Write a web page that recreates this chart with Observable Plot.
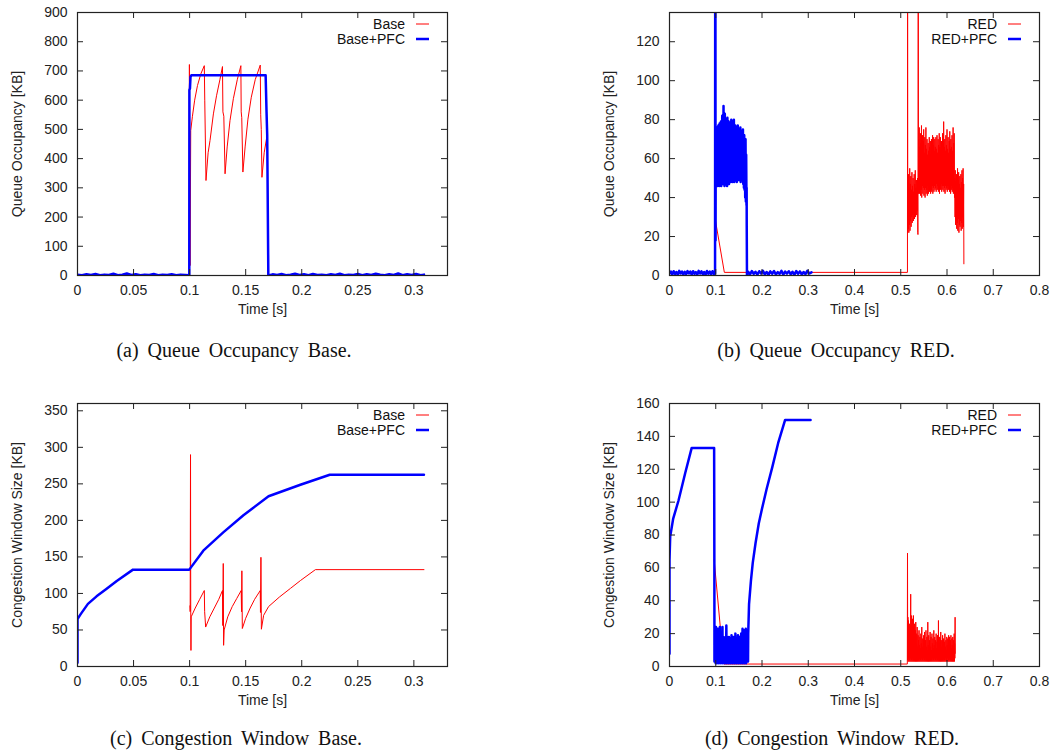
<!DOCTYPE html>
<html><head><meta charset="utf-8">
<script src="https://cdn.jsdelivr.net/npm/d3@7"></script>
<script src="https://cdn.jsdelivr.net/npm/@observablehq/plot@0.6"></script>
<style>
body{margin:0;background:#fff;}
#root{position:relative;width:1053px;height:750px;overflow:hidden;background:#fff;}
.panel{position:absolute;}
.cap{position:absolute;font-family:"Liberation Serif","Times New Roman",serif;font-size:20px;word-spacing:4px;white-space:nowrap;transform:translate(-50%,-50%);color:#111;}
</style></head>
<body><div id="root"></div>
<script>
// ---- tick values ----
const ticksX3 = [0,0.05,0.1,0.15,0.2,0.25,0.3];
const ticksX8 = [0,0.1,0.2,0.3,0.4,0.5,0.6,0.7,0.8];
const ticksYa = [0,100,200,300,400,500,600,700,800,900];
const ticksYb = [0,20,40,60,80,100,120];
const ticksYc = [0,50,100,150,200,250,300,350];
const ticksYd = [0,20,40,60,80,100,120,140,160];

// ---- (a) Queue occupancy, Base ----
const qBase = [[0,1.5],[0.0996,1.5],[0.0998,722],[0.1004,34],[0.1010,496],[0.1025,545],[0.1045,600],[0.107,650],[0.110,690],[0.1131,718],[0.1135,600],[0.1146,325],[0.1165,420],[0.1182,462],[0.1212,553],[0.124,615],[0.127,670],[0.1293,715],[0.1297,560],[0.1305,545],[0.1316,348],[0.1335,440],[0.136,530],[0.139,605],[0.1425,670],[0.1457,718],[0.146,560],[0.1465,540],[0.1475,354],[0.1495,440],[0.152,535],[0.155,610],[0.1585,670],[0.163,720],[0.1634,550],[0.1639,500],[0.1645,336],[0.1665,420],[0.1693,485],[0.1700,0],[0.1705,1.5],[0.309,1.5]];
const qBasePfc = [[0,3],[0.004,1],[0.008,4],[0.012,2],[0.016,5],[0.02,1],[0.024,3],[0.028,2],[0.032,6],[0.036,1],[0.04,3],[0.044,7],[0.048,2],[0.052,4],[0.056,1],[0.06,3],[0.064,2],[0.068,5],[0.072,1],[0.076,3],[0.08,2],[0.084,4],[0.088,1],[0.092,3],[0.096,2],[0.0996,1],
 [0.0997,0],[0.0998,635],[0.1003,640],[0.1008,680],[0.1015,685],[0.1678,685],[0.1686,560],[0.1692,480],[0.1702,0],
 [0.174,4],[0.178,2],[0.182,5],[0.186,1],[0.19,3],[0.194,6],[0.198,2],[0.202,4],[0.206,1],[0.21,5],[0.214,2],[0.218,3],[0.222,1],[0.226,4],[0.23,2],[0.234,6],[0.238,1],[0.242,3],[0.246,2],[0.25,5],[0.254,1],[0.258,4],[0.262,2],[0.266,6],[0.27,3],[0.274,1],[0.278,4],[0.282,2],[0.286,7],[0.29,1],[0.294,4],[0.298,2],[0.302,5],[0.306,1],[0.309,3]];

// ---- (b) Queue occupancy, RED ----
const qRed = [[0,1.5],[0.0988,1.5],[0.099,150],[0.0995,28],[0.1186,1.6],[0.5145,1.6],[0.5148,150],[0.5152,22],
 [0.5158,48],[0.5164,24],[0.517,52],[0.5176,22],[0.5182,45],[0.5188,26],[0.5194,55],[0.52,23],[0.5206,47],[0.5212,28],[0.5218,51],[0.5224,25],[0.523,44],[0.5236,30],[0.5242,53],[0.5248,27],[0.5254,46],[0.526,31],[0.5266,50],[0.5272,28],[0.5278,43],[0.5284,33],[0.529,52],[0.5296,29],[0.5302,47],[0.5308,32],[0.5314,54],[0.532,30],[0.5326,45],[0.5332,34],[0.5338,49],[0.5344,31],[0.535,44],[0.5356,33],[0.5362,50],[0.5368,22],[0.5372,21],[0.5376,150],[0.538,150],[0.5384,42],
 [0.5388,70],[0.5394,44],[0.54,76],[0.5406,42],[0.5412,66],[0.5418,45],[0.5424,73],[0.543,41],[0.5436,68],[0.5442,44],[0.5448,77],[0.5454,40],[0.546,64],[0.5466,46],[0.5472,72],[0.5478,42],[0.5484,69],[0.549,45],[0.5496,75],[0.5502,41],[0.5508,63],[0.5514,44],[0.552,71],[0.5526,40],[0.5532,67],[0.5538,45],[0.5544,76],[0.555,42],[0.5556,65],[0.5562,44],[0.5568,70],[0.5574,41],[0.558,62],[0.5586,46],[0.5592,68],[0.5598,42],[0.5604,64],[0.561,45],[0.5616,71],[0.5622,43],[0.5628,66],[0.5634,45],[0.564,69],[0.5646,42],[0.5652,62],[0.5658,44],[0.5664,70],[0.567,43],[0.5676,65],[0.5682,46],[0.5688,72],[0.5694,42],[0.57,67],[0.5706,45],[0.5712,71],[0.5718,43],[0.5724,64],[0.573,46],[0.5736,70],[0.5742,44],[0.5748,66],[0.5754,45],[0.576,71],[0.5766,43],[0.5772,65],[0.5778,47],[0.5784,72],[0.579,44],[0.5796,63],[0.5802,46],[0.5808,70],[0.5814,43],[0.582,67],[0.5826,45],[0.5832,73],[0.5838,42],[0.5844,66],[0.585,46],[0.5856,71],[0.5862,44],[0.5868,64],[0.5874,47],[0.588,69],[0.5886,43],[0.5892,65],[0.5898,46],[0.5904,73],[0.591,44],[0.5916,68],[0.5922,46],[0.5928,79],[0.5934,43],[0.594,66],[0.5946,45],[0.5952,70],[0.5958,42],[0.5964,64],[0.597,46],[0.5976,72],[0.5982,44],[0.5988,67],[0.5994,45],[0.6,75],[0.6006,43],[0.6012,65],[0.6018,46],[0.6024,71],[0.603,44],[0.6036,63],[0.6042,47],[0.6048,69],[0.6054,43],[0.606,74],[0.6066,45],[0.6072,65],[0.6078,42],[0.6084,70],[0.609,46],[0.6096,66],[0.6102,44],[0.6108,72],[0.6114,43],[0.612,64],[0.6126,45],[0.6132,76],[0.6138,42],[0.6144,68],[0.615,44],[0.6156,73],[0.6162,40],
 [0.6168,50],[0.6174,30],[0.618,54],[0.6186,26],[0.6192,48],[0.6198,28],[0.6204,52],[0.621,24],[0.6216,46],[0.6222,27],[0.6228,55],[0.6234,23],[0.624,49],[0.6246,29],[0.6252,53],[0.6258,22],[0.6264,47],[0.627,26],[0.6276,51],[0.6282,25],[0.6288,45],[0.6294,28],[0.63,52],[0.6306,23],[0.6312,48],[0.6318,27],[0.6324,54],[0.633,24],[0.6336,50],[0.6342,30],[0.6348,55],[0.6354,25],[0.636,47],[0.6365,6]];
const qRedPfc = [[0,1],[0.003,2],[0.006,0.5],[0.009,2.2],[0.012,0.8],[0.015,1.8],[0.018,0.3],[0.021,2.4],[0.024,1],[0.027,2],[0.03,0.5],[0.033,1.9],[0.036,0.7],[0.039,2.3],[0.042,1.1],[0.045,2],[0.048,0.4],[0.051,2.2],[0.054,0.9],[0.057,1.7],[0.06,0.3],[0.063,2.4],[0.066,1],[0.069,2.1],[0.072,0.6],[0.075,1.8],[0.078,0.4],[0.081,2.3],[0.084,0.9],[0.087,2],[0.09,0.5],[0.093,2.2],[0.096,0.8],[0.0985,1],
 [0.0988,150],[0.0993,150],[0.0996,18],[0.1000,74],[0.1007,47],[0.1014,72],[0.1021,48],[0.1028,76],[0.1035,46],[0.1042,70],[0.1049,47],[0.1056,77],[0.1063,48],[0.107,73],[0.1077,46],[0.1084,78],[0.1091,47],[0.1098,71],[0.1105,48],[0.1112,79],[0.1119,46],[0.1126,74],[0.1133,47],[0.114,82],[0.1147,48],[0.1154,75],[0.1161,47],[0.1168,87],[0.1175,49],[0.1182,78],[0.1189,46],[0.1196,83],[0.1203,48],[0.121,76],[0.1217,47],[0.1224,80],[0.1231,48],[0.1238,74],[0.1245,46],[0.1252,81],[0.1259,49],[0.1266,75],[0.1273,48],[0.128,79],[0.1287,47],[0.1294,73],[0.1301,49],[0.1308,78],[0.1315,48],[0.1322,72],[0.1329,50],[0.1336,80],[0.1343,49],[0.135,74],[0.1357,48],[0.1364,79],[0.1371,50],[0.1378,71],[0.1385,49],[0.1392,80],[0.1399,48],[0.1406,73],[0.1413,50],[0.142,77],[0.1427,49],[0.1434,72],[0.1441,50],[0.1448,76],[0.1455,48],[0.1462,70],[0.1469,50],[0.1476,77],[0.1483,49],[0.149,71],[0.1497,50],[0.1504,75],[0.1511,49],[0.1518,69],[0.1525,50],[0.1532,76],[0.1539,48],[0.1546,70],[0.1553,50],[0.156,74],[0.1567,49],[0.1574,68],[0.1581,50],[0.1588,75],[0.1595,47],[0.1602,69],[0.1609,45],[0.1616,72],[0.1623,44],[0.163,67],[0.1637,40],[0.1644,70],[0.1651,38],[0.1658,62],[0.1665,36],[0.1668,45],[0.167,25],[0.1675,0],
 [0.170,2],[0.174,0.5],[0.178,2.3],[0.182,0.8],[0.186,1.9],[0.19,0.4],[0.194,2.2],[0.198,1],[0.202,2.4],[0.206,0.6],[0.21,1.8],[0.214,0.3],[0.218,2.1],[0.222,0.9],[0.226,2.3],[0.23,0.5],[0.234,1.7],[0.238,0.8],[0.242,2.4],[0.246,0.4],[0.25,2],[0.254,1],[0.258,2.2],[0.262,0.6],[0.266,1.9],[0.27,0.3],[0.274,2.3],[0.278,0.9],[0.282,2.1],[0.286,0.5],[0.29,1.8],[0.294,0.7],[0.298,2.4],[0.302,1],[0.307,1.6]];

// ---- (c) Congestion window, Base ----
const cwBase = [[0.1003,83],[0.1005,75],[0.1008,290],[0.1010,75],[0.1012,22],[0.1014,68],[0.105,80],[0.109,92],[0.1131,104],[0.1134,75],[0.1143,54],[0.118,68],[0.122,80],[0.126,92],[0.1293,104],[0.1296,56],[0.1300,141],[0.1303,29],[0.1308,50],[0.134,68],[0.138,82],[0.142,93],[0.146,104],[0.1463,75],[0.1466,131],[0.1470,52],[0.150,66],[0.154,80],[0.158,92],[0.163,104],[0.1632,74],[0.1636,149.5],[0.1640,51],[0.1660,70],[0.1704,82],[0.180,95],[0.19,107],[0.1988,117.6],[0.2122,132.6],[0.309,132.6]];
const cwBasePfc = [[0,5],[0,65],[0.003,72],[0.0093,85.7],[0.017,96],[0.0257,106],[0.035,117],[0.0495,132.6],[0.0997,132.6],[0.1122,158.6],[0.130,183.6],[0.148,207],[0.1704,233],[0.1988,248.8],[0.225,262.5],[0.309,262.5]];

// ---- (d) Congestion window, RED ----
const cwRed = [[0.0965,65],[0.117,2],[0.1175,1.5],[0.5142,1.5],[0.5146,69],[0.515,4],[0.5155,30],[0.516,3],[0.5165,28],[0.517,5],[0.5175,22],[0.518,3],[0.5185,26],[0.519,4],[0.5195,20],[0.52,3],[0.5205,25],[0.521,5],[0.5215,44],[0.522,3],[0.5225,21],[0.523,4],[0.5235,31],[0.524,3],[0.5245,18],[0.525,5],[0.5255,29],[0.526,3],[0.5265,19],[0.527,4],[0.5275,31],[0.528,3],[0.5285,17],[0.529,5],[0.5295,26],[0.53,3],[0.5305,15],[0.531,4],[0.5315,22],[0.532,3],[0.5325,27],[0.533,5],[0.5335,14],[0.534,3],[0.5345,20],[0.535,4],[0.5355,24],[0.536,3],[0.5365,12],[0.537,5],[0.5375,19],[0.538,3],[0.5385,16],[0.539,4],[0.5395,22],[0.54,3],[0.5405,13],[0.541,5],[0.5415,18],[0.542,3],[0.5425,11],[0.543,4],[0.5435,20],[0.544,3],[0.5445,14],[0.545,5],[0.5455,24],[0.546,3],[0.5465,12],[0.547,4],[0.5475,17],[0.548,3],[0.5485,10],[0.549,5],[0.5495,19],[0.55,3],[0.5505,13],[0.551,4],[0.5515,21],[0.552,3],[0.5525,11],[0.553,5],[0.5535,16],[0.554,3],[0.5545,22],[0.555,4],[0.5555,12],[0.556,3],[0.5565,18],[0.557,5],[0.5575,10],[0.558,3],[0.5585,27],[0.559,4],[0.5595,13],[0.56,3],[0.5605,19],[0.561,5],[0.5615,11],[0.562,3],[0.5625,16],[0.563,4],[0.5635,21],[0.564,3],[0.5645,12],[0.565,5],[0.5655,18],[0.566,3],[0.5665,10],[0.567,4],[0.5675,20],[0.568,3],[0.5685,14],[0.569,5],[0.5695,17],[0.57,3],[0.5705,11],[0.571,4],[0.5715,22],[0.572,3],[0.5725,13],[0.573,5],[0.5735,18],[0.574,3],[0.5745,12],[0.575,4],[0.5755,16],[0.576,3],[0.5765,20],[0.577,5],[0.5775,11],[0.578,3],[0.5785,15],[0.579,4],[0.5795,19],[0.58,3],[0.5805,12],[0.581,5],[0.5815,28],[0.582,3],[0.5825,14],[0.583,4],[0.5835,18],[0.584,3],[0.5845,11],[0.585,5],[0.5855,17],[0.586,3],[0.5865,21],[0.587,4],[0.5875,12],[0.588,3],[0.5885,16],[0.589,5],[0.5895,10],[0.59,3],[0.5905,19],[0.591,4],[0.5915,13],[0.592,3],[0.5925,17],[0.593,5],[0.5935,11],[0.594,3],[0.5945,15],[0.595,4],[0.5955,20],[0.596,3],[0.5965,12],[0.597,5],[0.5975,16],[0.598,3],[0.5985,10],[0.599,4],[0.5995,18],[0.6,3],[0.6005,13],[0.601,5],[0.6015,17],[0.602,3],[0.6025,11],[0.603,4],[0.6035,19],[0.604,3],[0.6045,14],[0.605,5],[0.6055,18],[0.606,3],[0.6065,12],[0.607,4],[0.6075,16],[0.608,3],[0.6085,19],[0.609,5],[0.6095,11],[0.61,3],[0.6105,17],[0.611,4],[0.6115,13],[0.612,3],[0.6125,18],[0.613,5],[0.6135,12],[0.614,3],[0.6145,16],[0.615,4],[0.6155,20],[0.616,3],[0.6165,14],[0.617,5],[0.6175,30],[0.6178,8]];
const cwRedPfc = [[0,7.7],[0,64.7],[0.0015,79],[0.008,90],[0.0195,101],[0.034,117.7],[0.048,133],[0.0965,133],[0.097,65],[0.0972,3],[0.0977,23],[0.0984,4],[0.0991,17],[0.0998,2],[0.1005,24],[0.1012,3],[0.1019,14],[0.1026,2],[0.1033,18],[0.104,4],[0.1047,23],[0.1054,3],[0.1061,13],[0.1068,2],[0.1075,17],[0.1082,4],[0.1089,24],[0.1096,3],[0.1103,12],[0.111,2],[0.1117,19],[0.1124,4],[0.1131,15],[0.1138,3],[0.1145,24],[0.1152,2],[0.1159,13],[0.1166,4],[0.1173,18],[0.118,3],[0.1187,11],[0.1194,2],[0.1201,17],[0.1208,4],[0.1215,14],[0.1222,3],[0.1229,25],[0.1236,2],[0.1243,12],[0.125,4],[0.1257,18],[0.1264,3],[0.1271,15],[0.1278,2],[0.1285,18],[0.1292,4],[0.1299,11],[0.1306,3],[0.1313,17],[0.132,2],[0.1327,13],[0.1334,4],[0.1341,19],[0.1348,3],[0.1355,12],[0.1362,2],[0.1369,16],[0.1376,4],[0.1383,18],[0.139,3],[0.1397,11],[0.1404,2],[0.1411,15],[0.1418,4],[0.1425,20],[0.1432,3],[0.1439,13],[0.1446,2],[0.1453,17],[0.146,4],[0.1467,12],[0.1474,3],[0.1481,19],[0.1488,2],[0.1495,14],[0.1502,4],[0.1509,18],[0.1516,3],[0.1523,11],[0.153,2],[0.1537,16],[0.1544,4],[0.1551,20],[0.1558,3],[0.1565,13],[0.1572,2],[0.1579,23],[0.1586,4],[0.1593,15],[0.16,3],[0.1607,19],[0.1614,2],[0.1621,22],[0.1628,4],[0.1635,14],[0.1642,3],[0.1649,23],[0.1656,2],[0.1663,17],[0.167,4],[0.1677,22],[0.1684,3],[0.1691,12],[0.1698,3],
 [0.1702,20],[0.172,38],[0.176,52],[0.18,63],[0.186,75],[0.193,87],[0.2,96],[0.21,108],[0.222,121],[0.235,136],[0.25,150],[0.305,150]];

const captions = ["(a) Queue Occupancy Base.","(b) Queue Occupancy RED.","(c) Congestion Window Base.","(d) Congestion Window RED."];

const panels = [
  {left:0, top:0, xMax:0.33, yMax:900, xTicks:ticksX3, yTicks:ticksYa, yLabel:"Queue Occupancy [KB]", red:qBase, blue:qBasePfc, names:["Base","Base+PFC"], cap:captions[0], capX:234, capY:350},
  {left:592, top:0, xMax:0.8, yMax:135, xTicks:ticksX8, yTicks:ticksYb, yLabel:"Queue Occupancy [KB]", red:qRed, blue:qRedPfc, names:["RED","RED+PFC"], cap:captions[1], capX:836, capY:350},
  {left:0, top:391, xMax:0.33, yMax:360, xTicks:ticksX3, yTicks:ticksYc, yLabel:"Congestion Window Size [KB]", red:cwBase, blue:cwBasePfc, names:["Base","Base+PFC"], cap:captions[2], capX:236, capY:738},
  {left:592, top:391, xMax:0.8, yMax:160, xTicks:ticksX8, yTicks:ticksYd, yLabel:"Congestion Window Size [KB]", red:cwRed, blue:cwRedPfc, names:["RED","RED+PFC"], cap:captions[3], capX:832, capY:738}
];

const root = document.getElementById("root");
const FONT = "'Liberation Sans', Arial, Helvetica, sans-serif";
const fmt = d => String(+(+d).toFixed(2));

for (const p of panels) {
  const W = 461, H = 330, mL = 77, mR = 14, mT = 12, mB = 55;
  const pw = W - mL - mR, ph = H - mT - mB;
  const ink = "#222";
  const svg = Plot.plot({
    width: W, height: H, marginLeft: mL, marginRight: mR, marginTop: mT, marginBottom: mB,
    style: {fontFamily: FONT, fontSize: "14px", color: ink, background: "transparent", overflow: "visible"},
    x: {domain: [0, p.xMax]},
    y: {domain: [0, p.yMax]},
    marks: [
      Plot.line(p.red, {x: d => d[0], y: d => d[1], stroke: "#ff0000", strokeWidth: 1, clip: true}),
      Plot.line(p.blue, {x: d => d[0], y: d => d[1], stroke: "#0000ff", strokeWidth: 2.5, clip: true}),
      Plot.ruleX(p.xTicks, {x: d => d, insetTop: ph - 6, stroke: ink}),
      Plot.ruleX(p.xTicks, {x: d => d, insetBottom: ph - 6, stroke: ink}),
      Plot.ruleY(p.yTicks, {y: d => d, insetRight: pw - 6, stroke: ink}),
      Plot.ruleY(p.yTicks, {y: d => d, insetLeft: pw - 6, stroke: ink}),
      Plot.frame({stroke: ink, strokeWidth: 1.2}),
      Plot.axisX(p.xTicks, {tickSize: 0, tickPadding: 10, tickFormat: fmt, label: null, fontSize: 14}),
      Plot.axisY(p.yTicks, {tickSize: 0, tickPadding: 10, tickFormat: fmt, label: null, fontSize: 14}),
      Plot.text([p.yLabel], {frameAnchor: "left", dx: -60, rotate: -90, text: d => d, textAnchor: "middle", fontSize: 14}),
      Plot.text(["Time [s]"], {frameAnchor: "bottom", dy: 38, text: d => d, fontSize: 14})
    ]
  });
  // legend (gnuplot style, inside the top-right corner)
  const g = d3.select(svg).append("g").attr("font-family", FONT).attr("font-size", 14);
  const fr = mL + pw;
  p.names.forEach((n, i) => {
    const y = mT + 12 + i * 15;
    g.append("text").attr("x", fr - 42).attr("y", y).attr("text-anchor", "end")
      .attr("dominant-baseline", "central").attr("fill", "#111").text(n);
    g.append("line").attr("x1", fr - 31).attr("x2", fr - 18).attr("y1", y).attr("y2", y)
      .attr("stroke", i ? "#0000ff" : "#ff0000").attr("stroke-width", i ? 2.5 : 1);
  });
  const div = document.createElement("div");
  div.className = "panel";
  div.style.left = p.left + "px";
  div.style.top = p.top + "px";
  div.appendChild(svg);
  root.appendChild(div);
  const cap = document.createElement("div");
  cap.className = "cap";
  cap.style.left = p.capX + "px";
  cap.style.top = p.capY + "px";
  cap.textContent = p.cap;
  root.appendChild(cap);
}
</script>
</body></html>
